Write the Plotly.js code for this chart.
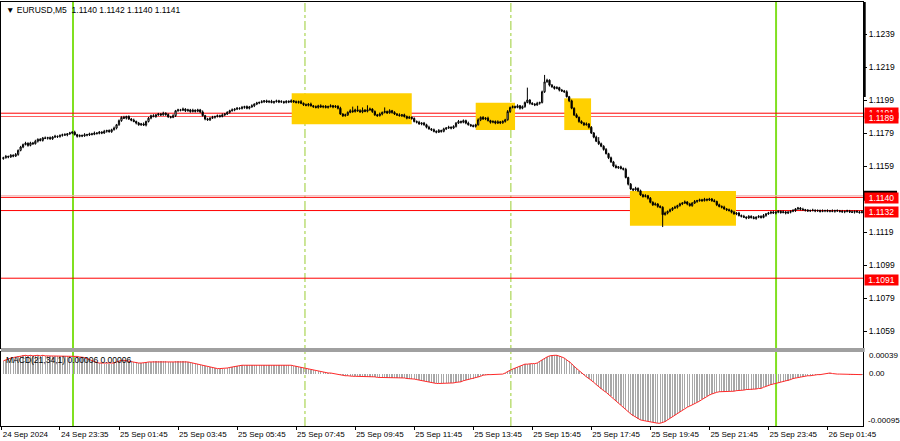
<!DOCTYPE html>
<html>
<head>
<meta charset="utf-8">
<script src="https://cdn.plot.ly/plotly-3.0.1.min.js"></script>
<style>html,body{margin:0;padding:0;background:#fff;}#chart{width:900px;height:441px;}</style>
</head>
<body>
<div id="chart"></div>
<script>
// EURUSD M5 candles (bar index 0..349)
const open = [
1.11635,1.11640,1.11648,1.11645,1.11655,1.11650,1.11660,1.11685,1.11705,1.11720,
1.11728,1.11715,1.11730,1.11725,1.11740,1.11752,1.11745,1.11760,1.11758,1.11762,
1.11755,1.11765,1.11770,1.11768,1.11775,1.11780,1.11778,1.11785,1.11790,1.11795,
1.11780,1.11770,1.11775,1.11772,1.11780,1.11778,1.11785,1.11782,1.11790,1.11788,
1.11795,1.11790,1.11800,1.11805,1.11798,1.11810,1.11820,1.11840,1.11865,1.11885,
1.11880,1.11890,1.11875,1.11868,1.11860,1.11850,1.11840,1.11845,1.11838,1.11860,
1.11880,1.11895,1.11890,1.11900,1.11905,1.11900,1.11910,1.11902,1.11888,1.11885,
1.11895,1.11925,1.11930,1.11928,1.11935,1.11925,1.11930,1.11920,1.11928,1.11922,
1.11930,1.11918,1.11895,1.11875,1.11870,1.11880,1.11885,1.11890,1.11895,1.11890,
1.11900,1.11905,1.11915,1.11925,1.11930,1.11935,1.11940,1.11938,1.11945,1.11950,
1.11940,1.11948,1.11955,1.11965,1.11972,1.11975,1.11980,1.11985,1.11978,1.11982,
1.11975,1.11980,1.11985,1.11978,1.11980,1.11975,1.11982,1.11978,1.11985,1.11980,
1.11975,1.11980,1.11970,1.11962,1.11958,1.11965,1.11955,1.11950,1.11945,1.11955,
1.11948,1.11952,1.11945,1.11950,1.11955,1.11948,1.11952,1.11940,1.11905,1.11895,
1.11900,1.11915,1.11925,1.11920,1.11930,1.11925,1.11918,1.11928,1.11922,1.11930,
1.11935,1.11920,1.11900,1.11895,1.11905,1.11915,1.11920,1.11912,1.11925,1.11915,
1.11905,1.11900,1.11895,1.11900,1.11890,1.11880,1.11885,1.11878,1.11860,1.11855,
1.11845,1.11850,1.11840,1.11825,1.11815,1.11810,1.11800,1.11795,1.11805,1.11800,
1.11815,1.11820,1.11825,1.11820,1.11830,1.11850,1.11860,1.11855,1.11865,1.11850,
1.11840,1.11835,1.11830,1.11840,1.11870,1.11885,1.11875,1.11880,1.11865,1.11855,
1.11860,1.11850,1.11858,1.11852,1.11860,1.11870,1.11920,1.11945,1.11950,1.11945,
1.11955,1.11940,1.11950,1.11975,1.11990,1.11970,1.11965,1.11960,1.11970,1.11975,
1.12040,1.12100,1.12110,1.12080,1.12070,1.12060,1.12065,1.12050,1.12045,1.12040,
1.12010,1.11985,1.11940,1.11900,1.11885,1.11860,1.11850,1.11840,1.11845,1.11825,
1.11790,1.11765,1.11740,1.11725,1.11710,1.11690,1.11665,1.11640,1.11615,1.11590,
1.11580,1.11585,1.11575,1.11570,1.11520,1.11480,1.11450,1.11445,1.11455,1.11440,
1.11415,1.11405,1.11410,1.11395,1.11370,1.11355,1.11360,1.11345,1.11340,1.11295,
1.11305,1.11315,1.11325,1.11335,1.11340,1.11350,1.11360,1.11365,1.11372,1.11360,
1.11350,1.11365,1.11375,1.11380,1.11385,1.11380,1.11388,1.11384,1.11390,1.11380,
1.11375,1.11355,1.11345,1.11340,1.11330,1.11325,1.11320,1.11310,1.11300,1.11305,
1.11290,1.11285,1.11280,1.11275,1.11285,1.11278,1.11272,1.11280,1.11285,1.11278,
1.11290,1.11300,1.11305,1.11310,1.11305,1.11310,1.11315,1.11308,1.11312,1.11305,
1.11310,1.11315,1.11320,1.11330,1.11335,1.11328,1.11325,1.11322,1.11318,1.11320,
1.11322,1.11318,1.11320,1.11315,1.11318,1.11320,1.11316,1.11318,1.11315,1.11320,
1.11318,1.11315,1.11312,1.11315,1.11318,1.11312,1.11310,1.11315,1.11312,1.11308];
const high = [
1.11646,1.11657,1.11653,1.11662,1.11661,1.11669,1.11690,1.11712,1.11726,1.11737,
1.11733,1.11737,1.11736,1.11749,1.11757,1.11759,1.11766,1.11769,1.11767,1.11769,
1.11771,1.11779,1.11775,1.11782,1.11786,1.11789,1.11790,1.11797,1.11801,1.11804,
1.11785,1.11782,1.11781,1.11789,1.11785,1.11792,1.11791,1.11799,1.11795,1.11802,
1.11801,1.11809,1.11810,1.11812,1.11816,1.11829,1.11845,1.11872,1.11891,1.11894,
1.11895,1.11897,1.11881,1.11877,1.11865,1.11857,1.11851,1.11854,1.11865,1.11887,
1.11901,1.11904,1.11905,1.11912,1.11911,1.11919,1.11915,1.11909,1.11894,1.11904,
1.11930,1.11937,1.11936,1.11944,1.11940,1.11937,1.11936,1.11937,1.11933,1.11937,
1.11936,1.11927,1.11900,1.11882,1.11886,1.11894,1.11895,1.11902,1.11901,1.11909,
1.11910,1.11922,1.11931,1.11939,1.11940,1.11947,1.11946,1.11954,1.11955,1.11957,
1.11954,1.11964,1.11970,1.11979,1.11981,1.11989,1.11990,1.11992,1.11988,1.11991,
1.11985,1.11992,1.11991,1.11989,1.11985,1.11989,1.11988,1.11994,1.11990,1.11987,
1.11986,1.11989,1.11975,1.11969,1.11971,1.11974,1.11960,1.11957,1.11961,1.11964,
1.11957,1.11959,1.11956,1.11964,1.11960,1.11959,1.11958,1.11949,1.11910,1.11907,
1.11921,1.11934,1.11950,1.11937,1.11955,1.11934,1.11945,1.11935,1.11958,1.11944,
1.11940,1.11927,1.11906,1.11914,1.11920,1.11945,1.11926,1.11934,1.11930,1.11922,
1.11911,1.11909,1.11905,1.11907,1.11896,1.11894,1.11890,1.11885,1.11866,1.11864,
1.11855,1.11857,1.11846,1.11834,1.11820,1.11817,1.11806,1.11814,1.11810,1.11822,
1.11826,1.11834,1.11830,1.11837,1.11856,1.11869,1.11865,1.11872,1.11871,1.11859,
1.11845,1.11842,1.11846,1.11879,1.11890,1.11892,1.11886,1.11889,1.11870,1.11867,
1.11866,1.11867,1.11863,1.11867,1.11876,1.11929,1.11950,1.11957,1.11956,1.11964,
1.11960,1.11957,1.11981,1.12065,1.11995,1.11977,1.11971,1.11979,1.11980,1.12047,
1.12142,1.12119,1.12115,1.12087,1.12076,1.12074,1.12070,1.12057,1.12051,1.12049,
1.12015,1.11992,1.11946,1.11909,1.11890,1.11867,1.11856,1.11854,1.11850,1.11832,
1.11796,1.11774,1.11765,1.11732,1.11716,1.11699,1.11670,1.11647,1.11621,1.11599,
1.11590,1.11592,1.11581,1.11579,1.11525,1.11487,1.11456,1.11464,1.11460,1.11447,
1.11421,1.11419,1.11415,1.11402,1.11376,1.11369,1.11365,1.11352,1.11346,1.11314,
1.11320,1.11332,1.11341,1.11349,1.11355,1.11367,1.11371,1.11381,1.11377,1.11367,
1.11371,1.11384,1.11385,1.11392,1.11391,1.11397,1.11393,1.11397,1.11396,1.11389,
1.11380,1.11362,1.11351,1.11349,1.11335,1.11332,1.11326,1.11319,1.11310,1.11312,
1.11296,1.11294,1.11285,1.11292,1.11291,1.11287,1.11285,1.11292,1.11291,1.11299,
1.11305,1.11312,1.11316,1.11319,1.11315,1.11322,1.11321,1.11321,1.11317,1.11317,
1.11321,1.11329,1.11335,1.11342,1.11341,1.11337,1.11330,1.11329,1.11326,1.11331,
1.11327,1.11327,1.11326,1.11327,1.11325,1.11327,1.11324,1.11327,1.11325,1.11327,
1.11324,1.11324,1.11320,1.11325,1.11324,1.11321,1.11320,1.11322,1.11318,1.11321];
const low = [
1.11628,1.11635,1.11637,1.11639,1.11643,1.11645,1.11652,1.11679,1.11698,1.11715,
1.11707,1.11709,1.11718,1.11720,1.11732,1.11739,1.11738,1.11753,1.11750,1.11749,
1.11748,1.11760,1.11760,1.11762,1.11768,1.11773,1.11770,1.11779,1.11783,1.11775,
1.11762,1.11764,1.11765,1.11767,1.11770,1.11772,1.11775,1.11777,1.11780,1.11782,
1.11783,1.11785,1.11792,1.11792,1.11791,1.11805,1.11812,1.11834,1.11858,1.11875,
1.11872,1.11869,1.11861,1.11855,1.11842,1.11834,1.11833,1.11833,1.11830,1.11854,
1.11873,1.11885,1.11882,1.11894,1.11893,1.11895,1.11894,1.11882,1.11878,1.11880,
1.11887,1.11919,1.11921,1.11923,1.11917,1.11919,1.11913,1.11915,1.11914,1.11916,
1.11911,1.11890,1.11867,1.11864,1.11863,1.11875,1.11877,1.11884,1.11883,1.11885,
1.11892,1.11899,1.11908,1.11920,1.11922,1.11929,1.11931,1.11933,1.11937,1.11934,
1.11933,1.11943,1.11947,1.11959,1.11965,1.11970,1.11972,1.11972,1.11971,1.11970,
1.11967,1.11974,1.11971,1.11973,1.11967,1.11969,1.11971,1.11973,1.11972,1.11969,
1.11968,1.11965,1.11954,1.11952,1.11951,1.11950,1.11942,1.11939,1.11938,1.11943,
1.11940,1.11939,1.11938,1.11945,1.11940,1.11942,1.11933,1.11900,1.11887,1.11889,
1.11893,1.11910,1.11912,1.11914,1.11918,1.11913,1.11910,1.11916,1.11915,1.11925,
1.11912,1.11894,1.11888,1.11890,1.11897,1.11909,1.11905,1.11907,1.11907,1.11899,
1.11893,1.11890,1.11887,1.11884,1.11873,1.11875,1.11870,1.11854,1.11848,1.11840,
1.11837,1.11834,1.11818,1.11810,1.11802,1.11794,1.11788,1.11790,1.11792,1.11794,
1.11808,1.11815,1.11812,1.11814,1.11823,1.11845,1.11847,1.11849,1.11843,1.11835,
1.11827,1.11824,1.11823,1.11835,1.11862,1.11869,1.11868,1.11860,1.11847,1.11849,
1.11843,1.11845,1.11844,1.11846,1.11853,1.11865,1.11912,1.11939,1.11938,1.11940,
1.11932,1.11934,1.11943,1.11970,1.11962,1.11959,1.11953,1.11955,1.11962,1.11969,
1.12033,1.12095,1.12072,1.12064,1.12053,1.12055,1.12042,1.12039,1.12033,1.12005,
1.11977,1.11934,1.11893,1.11880,1.11852,1.11844,1.11833,1.11835,1.11817,1.11784,
1.11758,1.11735,1.11717,1.11704,1.11683,1.11660,1.11632,1.11609,1.11583,1.11575,
1.11572,1.11569,1.11563,1.11515,1.11472,1.11444,1.11438,1.11440,1.11432,1.11409,
1.11398,1.11400,1.11387,1.11364,1.11348,1.11350,1.11337,1.11334,1.11220,1.11290,
1.11297,1.11309,1.11318,1.11330,1.11332,1.11344,1.11353,1.11360,1.11352,1.11344,
1.11343,1.11360,1.11367,1.11374,1.11373,1.11375,1.11376,1.11378,1.11373,1.11370,
1.11347,1.11339,1.11333,1.11325,1.11317,1.11314,1.11303,1.11295,1.11292,1.11284,
1.11278,1.11275,1.11267,1.11269,1.11271,1.11267,1.11264,1.11274,1.11271,1.11273,
1.11282,1.11294,1.11298,1.11300,1.11297,1.11304,1.11301,1.11303,1.11297,1.11299,
1.11303,1.11310,1.11312,1.11324,1.11321,1.11320,1.11314,1.11312,1.11311,1.11315,
1.11310,1.11312,1.11308,1.11310,1.11310,1.11310,1.11309,1.11310,1.11307,1.11312,
1.11308,1.11307,1.11304,1.11309,1.11305,1.11305,1.11302,1.11306,1.11301,1.11303];
const close = [
1.11640,1.11648,1.11645,1.11655,1.11650,1.11660,1.11685,1.11705,1.11720,1.11728,
1.11715,1.11730,1.11725,1.11740,1.11752,1.11745,1.11760,1.11758,1.11762,1.11755,
1.11765,1.11770,1.11768,1.11775,1.11780,1.11778,1.11785,1.11790,1.11795,1.11780,
1.11770,1.11775,1.11772,1.11780,1.11778,1.11785,1.11782,1.11790,1.11788,1.11795,
1.11790,1.11800,1.11805,1.11798,1.11810,1.11820,1.11840,1.11865,1.11885,1.11880,
1.11890,1.11875,1.11868,1.11860,1.11850,1.11840,1.11845,1.11838,1.11860,1.11880,
1.11895,1.11890,1.11900,1.11905,1.11900,1.11910,1.11902,1.11888,1.11885,1.11895,
1.11925,1.11930,1.11928,1.11935,1.11925,1.11930,1.11920,1.11928,1.11922,1.11930,
1.11918,1.11895,1.11875,1.11870,1.11880,1.11885,1.11890,1.11895,1.11890,1.11900,
1.11905,1.11915,1.11925,1.11930,1.11935,1.11940,1.11938,1.11945,1.11950,1.11940,
1.11948,1.11955,1.11965,1.11972,1.11975,1.11980,1.11985,1.11978,1.11982,1.11975,
1.11980,1.11985,1.11978,1.11980,1.11975,1.11982,1.11978,1.11985,1.11980,1.11975,
1.11980,1.11970,1.11962,1.11958,1.11965,1.11955,1.11950,1.11945,1.11955,1.11948,
1.11952,1.11945,1.11950,1.11955,1.11948,1.11952,1.11940,1.11905,1.11895,1.11900,
1.11915,1.11925,1.11920,1.11930,1.11925,1.11918,1.11928,1.11922,1.11930,1.11935,
1.11920,1.11900,1.11895,1.11905,1.11915,1.11920,1.11912,1.11925,1.11915,1.11905,
1.11900,1.11895,1.11900,1.11890,1.11880,1.11885,1.11878,1.11860,1.11855,1.11845,
1.11850,1.11840,1.11825,1.11815,1.11810,1.11800,1.11795,1.11805,1.11800,1.11815,
1.11820,1.11825,1.11820,1.11830,1.11850,1.11860,1.11855,1.11865,1.11850,1.11840,
1.11835,1.11830,1.11840,1.11870,1.11885,1.11875,1.11880,1.11865,1.11855,1.11860,
1.11850,1.11858,1.11852,1.11860,1.11870,1.11920,1.11945,1.11950,1.11945,1.11955,
1.11940,1.11950,1.11975,1.11990,1.11970,1.11965,1.11960,1.11970,1.11975,1.12040,
1.12100,1.12110,1.12080,1.12070,1.12060,1.12065,1.12050,1.12045,1.12040,1.12010,
1.11985,1.11940,1.11900,1.11885,1.11860,1.11850,1.11840,1.11845,1.11825,1.11790,
1.11765,1.11740,1.11725,1.11710,1.11690,1.11665,1.11640,1.11615,1.11590,1.11580,
1.11585,1.11575,1.11570,1.11520,1.11480,1.11450,1.11445,1.11455,1.11440,1.11415,
1.11405,1.11410,1.11395,1.11370,1.11355,1.11360,1.11345,1.11340,1.11295,1.11305,
1.11315,1.11325,1.11335,1.11340,1.11350,1.11360,1.11365,1.11372,1.11360,1.11350,
1.11365,1.11375,1.11380,1.11385,1.11380,1.11388,1.11384,1.11390,1.11380,1.11375,
1.11355,1.11345,1.11340,1.11330,1.11325,1.11320,1.11310,1.11300,1.11305,1.11290,
1.11285,1.11280,1.11275,1.11285,1.11278,1.11272,1.11280,1.11285,1.11278,1.11290,
1.11300,1.11305,1.11310,1.11305,1.11310,1.11315,1.11308,1.11312,1.11305,1.11310,
1.11315,1.11320,1.11330,1.11335,1.11328,1.11325,1.11322,1.11318,1.11320,1.11322,
1.11318,1.11320,1.11315,1.11318,1.11320,1.11316,1.11318,1.11315,1.11320,1.11318,
1.11315,1.11312,1.11315,1.11318,1.11312,1.11310,1.11315,1.11312,1.11308,1.11312];
// MACD(21,34,1) main value per bar (signal equals main with period 1)
const macd = [
23e-5,25e-5,26e-5,28e-5,29e-5,30e-5,31e-5,32e-5,33e-5,33e-5,
32e-5,33e-5,32e-5,33e-5,33e-5,32e-5,33e-5,32e-5,32e-5,31e-5,
32e-5,32e-5,31e-5,31e-5,32e-5,31e-5,31e-5,32e-5,32e-5,31e-5,
31e-5,30e-5,30e-5,29e-5,27e-5,25e-5,23e-5,21e-5,20e-5,19e-5,
19e-5,18e-5,18e-5,18e-5,18e-5,19e-5,21e-5,23e-5,24e-5,24e-5,
23e-5,22e-5,21e-5,20e-5,20e-5,19e-5,19e-5,19e-5,20e-5,21e-5,
21e-5,22e-5,22e-5,22e-5,22e-5,22e-5,22e-5,21e-5,21e-5,21e-5,
22e-5,22e-5,22e-5,22e-5,22e-5,21e-5,20e-5,19e-5,18e-5,17e-5,
16e-5,15e-5,13e-5,12e-5,11e-5,10e-5,10e-5,9e-5,9e-5,9e-5,
9e-5,10e-5,11e-5,12e-5,13e-5,14e-5,14e-5,15e-5,15e-5,15e-5,
15e-5,15e-5,16e-5,16e-5,16e-5,16e-5,16e-5,16e-5,16e-5,15e-5,
15e-5,15e-5,15e-5,15e-5,15e-5,15e-5,15e-5,15e-5,14e-5,13e-5,
12e-5,11e-5,10e-5,9e-5,8e-5,7e-5,6e-5,5e-5,4e-5,3e-5,
2e-5,2e-5,1e-5,1e-5,0,0,-1e-5,-2e-5,-3e-5,-4e-5,
-4e-5,-5e-5,-5e-5,-5e-5,-5e-5,-5e-5,-5e-5,-6e-5,-6e-5,-6e-5,
-6e-5,-6e-5,-7e-5,-7e-5,-7e-5,-7e-5,-8e-5,-8e-5,-8e-5,-8e-5,
-8e-5,-8e-5,-8e-5,-8e-5,-9e-5,-9e-5,-9e-5,-10e-5,-11e-5,-12e-5,
-13e-5,-14e-5,-15e-5,-16e-5,-17e-5,-18e-5,-18e-5,-18e-5,-18e-5,-18e-5,
-18e-5,-17e-5,-17e-5,-17e-5,-16e-5,-16e-5,-15e-5,-13e-5,-12e-5,-11e-5,
-10e-5,-9e-5,-8e-5,-7e-5,-5e-5,-3e-5,-2e-5,-2e-5,-2e-5,-2e-5,
-1e-5,-1e-5,-1e-5,-1e-5,1e-5,4e-5,6e-5,8e-5,10e-5,12e-5,
14e-5,16e-5,17e-5,17e-5,18e-5,18e-5,18e-5,19e-5,22e-5,25e-5,
28e-5,30e-5,32e-5,33e-5,33e-5,33e-5,32e-5,30e-5,28e-5,25e-5,
22e-5,18e-5,13e-5,9e-5,5e-5,2e-5,-2e-5,-6e-5,-9e-5,-12e-5,
-16e-5,-20e-5,-24e-5,-28e-5,-31e-5,-34e-5,-38e-5,-41e-5,-45e-5,-49e-5,
-53e-5,-57e-5,-61e-5,-65e-5,-69e-5,-73e-5,-76e-5,-79e-5,-82e-5,-84e-5,
-85e-5,-86e-5,-86e-5,-87e-5,-88e-5,-89e-5,-90e-5,-90e-5,-89e-5,-87e-5,
-84e-5,-81e-5,-78e-5,-75e-5,-72e-5,-69e-5,-66e-5,-63e-5,-61e-5,-59e-5,
-57e-5,-55e-5,-52e-5,-50e-5,-47e-5,-44e-5,-41e-5,-39e-5,-37e-5,-35e-5,
-34e-5,-33e-5,-33e-5,-33e-5,-33e-5,-32e-5,-32e-5,-32e-5,-31e-5,-31e-5,
-30e-5,-30e-5,-29e-5,-29e-5,-29e-5,-28e-5,-28e-5,-27e-5,-27e-5,-25e-5,
-23e-5,-22e-5,-20e-5,-19e-5,-18e-5,-17e-5,-16e-5,-15e-5,-14e-5,-13e-5,
-11e-5,-9e-5,-8e-5,-7e-5,-7e-5,-6e-5,-5e-5,-4e-5,-4e-5,-3e-5,
-3e-5,-2e-5,-2e-5,-1e-5,0,1e-5,1e-5,0,-1e-5,-1e-5,
-1e-5,-1e-5,-1e-5,-1e-5,-2e-5,-2e-5,-2e-5,-2e-5,-2e-5,-2e-5];

// time axis labels (bar index where each label starts)
const tickIdx = [-0.69,23,47,71,95,119,143,167,191,215,239,263,287,311,335];
const tickText = ["24 Sep 2024","24 Sep 23:35","25 Sep 01:45","25 Sep 03:45","25 Sep 05:45","25 Sep 07:45","25 Sep 09:45","25 Sep 11:45","25 Sep 13:45","25 Sep 15:45","25 Sep 17:45","25 Sep 19:45","25 Sep 21:45","25 Sep 23:45","26 Sep 01:45"];
const priceTicks = [1.1239,1.1219,1.1199,1.1179,1.1159,1.1119,1.1099,1.1079,1.1059];

// horizontal levels and their labels
const levels = [1.1191,1.1189,1.1140,1.1132,1.1091];
const bidPrice = 1.1141;
// yellow zones: [startIdx, endIdx, topPrice, bottomPrice]
const zoneStart = [117.2,192.0,228.0,254.7];
const zoneEnd   = [166.0,208.0,238.9,297.8];
const zoneTop   = [1.12031,1.11974,1.12000,1.11438];
const zoneBot   = [1.11843,1.11808,1.11808,1.11228];
// vertical session lines (bar index)
const solidLines = [28.3,314.1];
const dashLines  = [122.6,206.3];
const macdRange = [-0.00095,0.00039];

const idx = close.map((_, i) => i);
const X0 = -0.97, X1 = 349.44;
const FONT = "Liberation Sans, Arial, sans-serif";
const FS = 8.5;

const traces = [
  {type:'candlestick', x: idx, open: open, high: high, low: low, close: close,
   xaxis:'x', yaxis:'y', whiskerwidth: 0,
   increasing:{line:{color:'#000000', width:1}, fillcolor:'#ffffff'},
   decreasing:{line:{color:'#000000', width:1}, fillcolor:'#000000'},
   hoverinfo:'skip', showlegend:false},
  {type:'bar', x: idx, y: macd, xaxis:'x2', yaxis:'y2', width:0.55,
   marker:{color:'#a8a8a8', line:{width:0}}, hoverinfo:'skip', showlegend:false},
  {type:'scatter', mode:'lines', x: idx, y: macd, xaxis:'x2', yaxis:'y2',
   line:{color:'#ff2a2a', width:1}, hoverinfo:'skip', showlegend:false}
];

const shapes = [];
for (let k = 0; k < zoneStart.length; k++) {
  shapes.push({type:'rect', layer:'below', xref:'x', yref:'y', x0: zoneStart[k], x1: zoneEnd[k],
    y0: zoneBot[k], y1: zoneTop[k], fillcolor:'#ffd000', line:{width:0}});
}
solidLines.forEach(v => shapes.push({type:'line', layer:'below', xref:'x', yref:'paper', x0:v, x1:v, y0:0, y1:1,
  line:{color:'#80e020', width:2}}));
dashLines.forEach(v => shapes.push({type:'line', layer:'below', xref:'x', yref:'paper', x0:v, x1:v, y0:0, y1:1,
  line:{color:'#9acd32', width:1, dash:'dashdot'}}));
shapes.push({type:'line', layer:'below', xref:'paper', yref:'y', x0:0, x1:1, y0:bidPrice, y1:bidPrice,
  line:{color:'#f0b0b0', width:1}});
levels.forEach((v, k) => shapes.push({type:'line', layer:'below', xref:'paper', yref:'y', x0:0, x1:1, y0:v, y1:v,
  line:{color: k === 1 ? '#ff6060' : '#ff0000', width:1}}));
// bid price marker box on the price scale (its text is hidden behind the 1.1140 label)
shapes.push({type:'rect', layer:'above', xref:'paper', yref:'y', x0:1.0012, x1:1.0395,
  y0: bidPrice - 0.0003, y1: bidPrice + 0.0003, fillcolor:'#000000', line:{width:0}});
// separator between panes
shapes.push({type:'rect', layer:'above', xref:'paper', yref:'paper', x0:0, x1:1.002, y0:0.1745, y1:0.1840,
  fillcolor:'#a0a0a0', line:{width:0}});
// thick marker at top of right scale
shapes.push({type:'line', layer:'above', xref:'paper', yref:'paper', x0:1.0017, x1:1.0017, y0:0.776, y1:1,
  line:{color:'#000000', width:2.5}});

const annotations = [
  {xref:'paper', yref:'paper', x:0, y:1, xanchor:'left', yanchor:'top', xshift:3, yshift:-1, showarrow:false,
   text:'▼ EURUSD,M5  1.1140 1.1142 1.1140 1.1141', font:{family:FONT, size:FS, color:'#000'}},
  {xref:'paper', yref:'y2', x:0, y:macdRange[1], xanchor:'left', yanchor:'top', xshift:3, yshift:-1, showarrow:false,
   text:'MACD(21,34,1) 0.00006 0.00006', font:{family:FONT, size:FS, color:'#000'}},
  {xref:'paper', yref:'y2', x:1, y:macdRange[1], xanchor:'left', yanchor:'middle', xshift:4, yshift:-4, showarrow:false,
   text:'0.00039', font:{family:FONT, size:8, color:'#000'}},
  {xref:'paper', yref:'y2', x:1, y:0, xanchor:'left', yanchor:'middle', xshift:4, showarrow:false,
   text:'0.00', font:{family:FONT, size:8, color:'#000'}},
  {xref:'paper', yref:'y2', x:1, y:macdRange[0], xanchor:'left', yanchor:'middle', xshift:3, yshift:5, showarrow:false,
   text:'-0.00095', font:{family:FONT, size:8, color:'#000'}}
];
function priceLabel(v, bg, dy) {
  annotations.push({xref:'paper', yref:'y', x:1, y:v, xanchor:'left', yanchor:'middle', xshift:1, yshift:dy,
    showarrow:false, text: v.toFixed(4), bgcolor: bg, borderpad:0, width:33, height:10,
    font:{family:FONT, size:FS, color:'#ffffff'}});
}
priceLabel(levels[0], '#ff0000', 0);
priceLabel(levels[1], '#ff0000', -1);
priceLabel(levels[2], '#ff0000', -0.5);
priceLabel(levels[3], '#ff0000', -1);
priceLabel(levels[4], '#ff0000', -1.5);

const layout = {
  width:900, height:441,
  margin:{l:1, r:37, t:2, b:15},
  paper_bgcolor:'#ffffff', plot_bgcolor:'#ffffff',
  showlegend:false, hovermode:false,
  font:{family:FONT, size:FS, color:'#000'},
  xaxis:{domain:[0,1], anchor:'y', range:[X0,X1], showticklabels:false, ticks:'',
    showline:true, mirror:true, linecolor:'#000', linewidth:1, showgrid:false, zeroline:false,
    rangeslider:{visible:false}, fixedrange:true},
  yaxis:{domain:[0.18396,1], anchor:'x', side:'right', range:[1.10487,1.12584],
    tickvals: priceTicks, tickformat:'.4f', ticks:'outside', ticklen:3, tickcolor:'#000',
    tickfont:{family:FONT, size:FS, color:'#000'},
    showline:true, mirror:true, linecolor:'#000', linewidth:1, showgrid:false, zeroline:false, fixedrange:true},
  xaxis2:{domain:[0,1], anchor:'y2', range:[X0,X1], tickvals: tickIdx, ticktext: tickText,
    ticks:'outside', ticklen:3, tickcolor:'#000', ticklabelposition:'outside right', tickangle:0,
    tickfont:{family:'Liberation Sans Narrow, ' + FONT, size:8, color:'#000'},
    showline:true, mirror:true, linecolor:'#000', linewidth:1, showgrid:false, zeroline:false, fixedrange:true},
  yaxis2:{domain:[0,0.17453], anchor:'x2', side:'right', range: macdRange, showticklabels:false, ticks:'',
    showline:true, mirror:true, linecolor:'#000', linewidth:1, showgrid:false, zeroline:false, fixedrange:true},
  shapes: shapes,
  annotations: annotations,
  bargap: 0
};

Plotly.newPlot('chart', traces, layout, {staticPlot:true, displayModeBar:false});
</script>
</body>
</html>
